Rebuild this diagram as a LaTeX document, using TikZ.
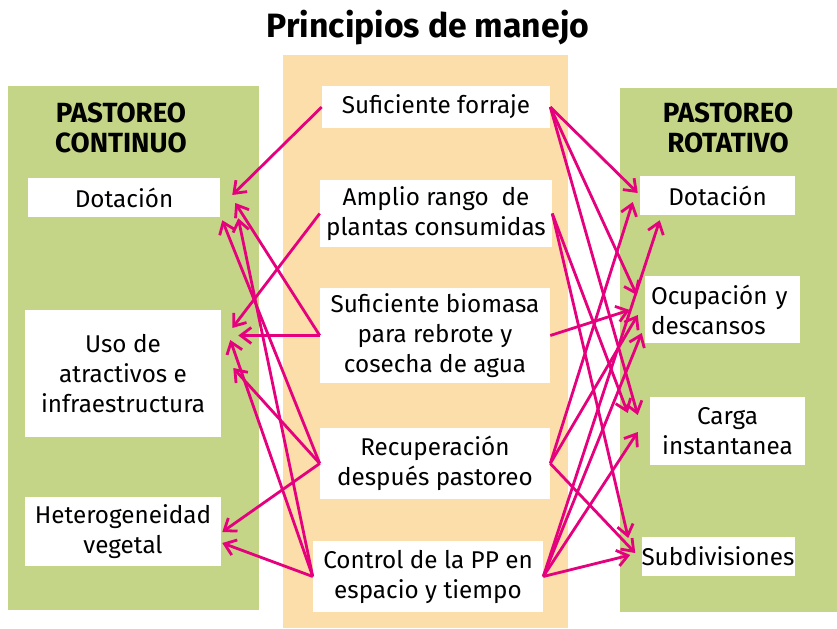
\documentclass[tikz,border=0pt]{standalone}
\usepackage{fontspec}
\setmainfont{Fira Sans}
\usepackage{tikz}
\usetikzlibrary{arrows.meta,positioning}
\definecolor{verde}{HTML}{C5D587}
\definecolor{crema}{HTML}{FBDEA9}
\definecolor{fucsia}{HTML}{E5007D}

\begin{document}
\begin{tikzpicture}[x=0.75pt,y=-0.75pt]
\tikzset{caja/.style =
{fill=white, inner sep=0pt, align=center,
font=\fontsize{18.2}{22.5}\selectfont}}
\tikzset{cabeza/.style =
{align=center, font=\bfseries\fontsize{20.8}{22.5}\selectfont}}
\tikzset{flecha/.style =
{draw=fucsia, line width=2.1pt,
-{Straight Barb[length=8pt,width=12pt,line width=2.1pt]}}}
\useasboundingbox (0,0) rectangle (837,628);
% paneles
\fill[verde] (8,86) rectangle (259,610);
\fill[crema] (283,55) rectangle (568,628);
\fill[verde] (620,88) rectangle (837,612);
\node[font=\bfseries\fontsize{25.3}{28}\selectfont] (titulo) at (428,28) {Principios de manejo};
\node[cabeza] (contL) at (121,128) {PASTOREO\\CONTINUO};
\node[cabeza] (rotR) at (728,128) {PASTOREO\\ROTATIVO};
% izquierda
\node[caja, minimum width=144pt, minimum height=29.25pt] (dotL) at (124,197.5) {Dotación};
\node[caja, minimum width=147pt, minimum height=95.25pt] (usoL) at (123,373.5) {Uso de\\atractivos e\\infraestructura};
\node[caja, minimum width=147pt, minimum height=51.75pt] (hetL) at (123,531.5) {Heterogeneidad\\vegetal};
% centro
\node[caja, minimum width=171pt, minimum height=31.5pt] (forraje) at (436,107) {Suficiente forraje};
\node[caja, minimum width=174pt, minimum height=50.25pt] (rango) at (436,213.5) {Amplio rango~ de\\plantas consumidas};
\node[caja, minimum width=172.5pt, minimum height=71.25pt] (biomasa) at (435,335.5) {Suficiente biomasa\\para rebrote y\\cosecha de agua};
\node[caja, minimum width=172.5pt, minimum height=53.25pt] (recup) at (435,463.5) {Recuperación\\después pastoreo};
\node[caja, minimum width=172.5pt, minimum height=53.25pt] (control) at (428,576.5) {Control de la PP en\\espacio y tiempo};
% derecha
\node[caja, minimum width=116.25pt, minimum height=29.25pt] (dotR) at (717.5,195.5) {Dotación};
\node[caja, align=left, inner xsep=4.5pt, text width=107.25pt, minimum height=50.25pt] (ocupR) at (722.5,309.5) {Ocupación y\\descansos};
\node[caja, minimum width=116.25pt, minimum height=51pt] (cargaR) at (727.5,431) {Carga\\instantanea};
\node[caja, minimum width=112.5pt, minimum height=29.25pt] (subdR) at (718,556.5) {Subdivisiones};
% flechas hacia pastoreo continuo
\draw[flecha] (forraje.west) -- ([shift={(12,-2.5)}]dotL.east);
\draw[flecha] (biomasa.west) -- ([shift={(15,5.5)}]dotL.east);
\draw[flecha] (recup.west) -- ([shift={(2,3)}]dotL.south east);
\draw[flecha] (control.west) -- ([shift={(18,1)}]dotL.south east);
\draw[flecha] (rango.west) -- ([shift={(11,-45.5)}]usoL.east);
\draw[flecha] (biomasa.west) -- ([shift={(17,-38)}]usoL.east);
\draw[flecha] (control.west) -- ([shift={(9,-33.5)}]usoL.east);
\draw[flecha] (recup.west) -- ([shift={(12,-5.5)}]usoL.east);
\draw[flecha] (recup.west) -- ([shift={(1,0.5)}]hetL.east);
\draw[flecha] (control.west) -- ([shift={(1,11.5)}]hetL.east);
% flechas hacia pastoreo rotativo
\draw[flecha] (forraje.east) -- ([shift={(-2,-2.5)}]dotR.west);
\draw[flecha] (recup.east) -- ([shift={(-7,6.5)}]dotR.west);
\draw[flecha] (control.east) -- ([shift={(20,5)}]dotR.south west);
\draw[flecha] (forraje.east) -- ([shift={(-8,-14.5)}]ocupR.west);
\draw[flecha] (biomasa.east) -- ([shift={(-15,0.5)}]ocupR.west);
\draw[flecha] (recup.east) -- ([shift={(-7,5.5)}]ocupR.west);
\draw[flecha] (control.east) -- ([shift={(-3,23.5)}]ocupR.west);
\draw[flecha] (forraje.east) -- ([shift={(-12,-16)}]cargaR.west);
\draw[flecha] (rango.east) -- ([shift={(-22,-18)}]cargaR.west);
\draw[flecha] (control.east) -- ([shift={(-12,1)}]cargaR.west);
\draw[flecha] (rango.east) -- ([shift={(-13,-18.5)}]subdR.west);
\draw[flecha] (recup.east) -- ([shift={(-6,-3.5)}]subdR.west);
\draw[flecha] (control.east) -- ([shift={(-11,-1.5)}]subdR.west);
\end{tikzpicture}
\end{document}
